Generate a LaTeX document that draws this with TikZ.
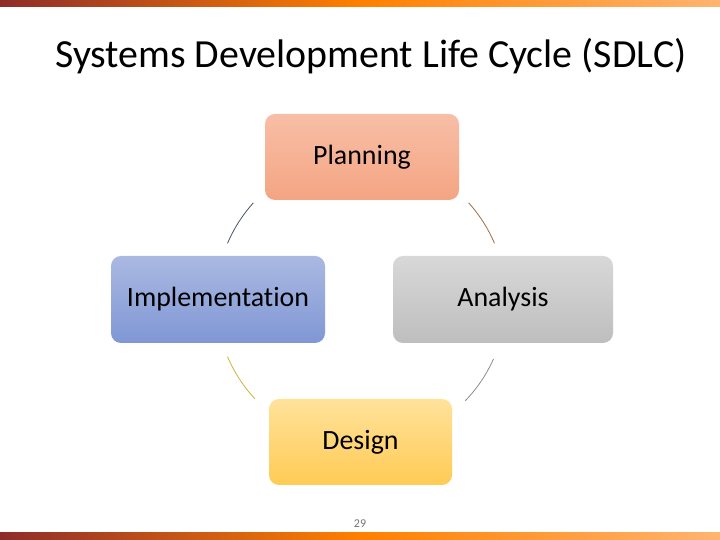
\documentclass[tikz,border=0pt]{standalone}
\usepackage{fontspec}
\setmainfont{Carlito}[Ligatures=NoCommon]
\usetikzlibrary{calc}
\definecolor{barred}{HTML}{8E2C2A}
\definecolor{barorange}{HTML}{FF8000}
\definecolor{barlight}{HTML}{FFB470}
\tikzset{
  stage/.style={rounded corners=10bp, inner sep=0pt, font=\fontsize{28}{32}\selectfont},
  cyc/.style={line width=0.8bp},
}

\begin{document}
\begin{tikzpicture}[x=1bp, y=1bp]
			%%%%% START %%%%%
			\useasboundingbox (0, 0) rectangle (720, 540);
			\fill[white] (0, 0) rectangle (720, 540);
			
			% bars
			\shade[left color=barred, right color=barlight, middle color=barorange] (0, 533) rectangle (720, 540);
			\shade[left color=barred, right color=barlight, middle color=barorange] (0, 0) rectangle (720, 7);
			
			\node[anchor=base west, inner sep=0pt, font=\fontsize{40}{44}\selectfont] (title) at (55, 472) {Systems Development Life Cycle (SDLC)};
			
			% stages
			\node[stage, minimum width=194bp, minimum height=86bp, top color={rgb,255:red,248;green,190;blue,167}, bottom color={rgb,255:red,244;green,165;blue,130}] (plan) at (362, 383) {Planning};
			\node[stage, minimum width=214bp, minimum height=87bp, top color={rgb,255:red,170;green,185;blue,226}, bottom color={rgb,255:red,128;green,151;blue,213}] (impl) at (218, 240.5) {Implementation};
			\node[stage, minimum width=220bp, minimum height=87bp, top color={rgb,255:red,216;green,216;blue,216}, bottom color={rgb,255:red,190;green,190;blue,190}] (ana) at (503, 240.5) {Analysis};
			\node[stage, minimum width=183bp, minimum height=86bp, top color={rgb,255:red,255;green,226;blue,155}, bottom color={rgb,255:red,255;green,203;blue,84}] (des) at (360.5, 98) {Design};
			
			% cycle arcs
			\coordinate (hub) at (361, 240);
			\draw[cyc, color={rgb,255:red,68;green,84;blue,106}] ([shift={(138:145)}]hub) arc (138:157:145);
			\draw[cyc, color={rgb,255:red,160;green,110;blue,70}] ([shift={(42:145)}]hub) arc (42:23:145);
			\draw[cyc, color={rgb,255:red,205;green,180;blue,60}] ([shift={(203:145)}]hub) arc (203:223:145);
			\draw[cyc, color=black!45] ([shift={(316:145)}]hub) arc (316:336:145);
			
			\node[font=\fontsize{12}{14}\selectfont, text=black!55] (page) at (360, 16) {29};
			%%%%% END %%%%%
\end{tikzpicture}
\end{document}
